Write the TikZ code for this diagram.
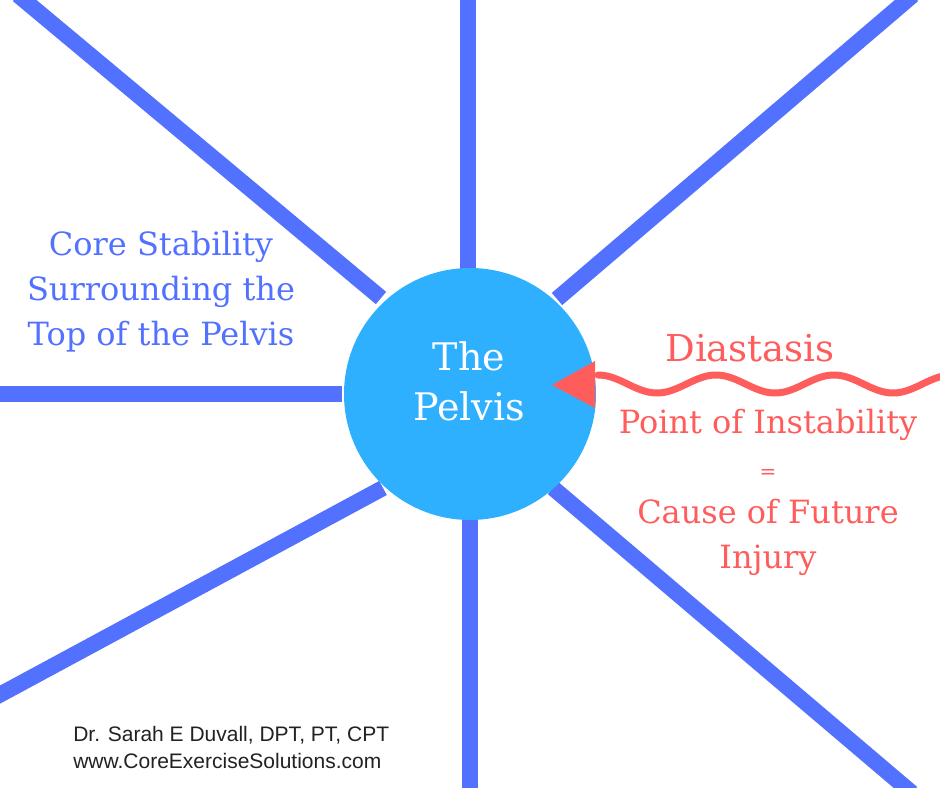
\documentclass[tikz,border=0pt]{standalone}
\usepackage{fontspec}
\setmainfont{DejaVu Serif}
\newfontfamily\creditfont{Liberation Sans}

\definecolor{spokeblue}{HTML}{5271FF}
\definecolor{pelvisblue}{HTML}{2EB0FF}
\definecolor{warnred}{HTML}{FF5C5C}
\definecolor{credit}{HTML}{222222}

\begin{document}
\begin{tikzpicture}[x=0.75pt, y=-0.75pt,
    spoke/.style={draw=spokeblue, line width=12pt},
    wave/.style={draw=warnred, line width=5.25pt, line cap=round},
    caption/.style={align=center, inner sep=0pt}]

    \useasboundingbox (0,0) rectangle (940,788);
    \clip (0,0) rectangle (940,788);
    \fill[white] (0,0) rectangle (940,788);

    \begin{scope}[]
    \coordinate (n out) at (468,-5);
    \coordinate (n in) at (468,272);
    \coordinate (s out) at (470,795);
    \coordinate (s in) at (470,516);
    \coordinate (w out) at (-5,394);
    \coordinate (w in) at (342,394);
    \coordinate (nw out) at (18,-5);
    \coordinate (nw in) at (381,298);
    \coordinate (ne out) at (913,-5);
    \coordinate (ne in) at (557,299);
    \coordinate (sw out) at (-10,700);
    \coordinate (sw in) at (383,488);
    \coordinate (se out) at (912,793);
    \coordinate (se in) at (553,488);

    \foreach \dir in {n,s,w,nw,ne,sw,se}
        \draw[spoke] (\dir\space out) -- (\dir\space in);
    \end{scope}

    \node[circle, fill=pelvisblue, minimum size=189pt, inner sep=0pt] (pelvis) at (470,394) {};
    \node[caption, anchor=base, text=white, font=\fontsize{28.5pt}{38.25pt}\selectfont]
        (pelvis text) at (469,421) {The\\Pelvis};

    \begin{scope}[]
    \fill[warnred] (552,385) -- (595,361) -- (595,408) -- cycle;
    \coordinate (wave start) at (598,375);
    \draw[wave] plot[domain=0:350, samples=160] ({598+\x},{384-9*cos(3.0508*\x)});
    \end{scope}

    \node[caption, anchor=base, text=spokeblue, font=\fontsize{24pt}{33.75pt}\selectfont]
        (stability) at (161,345) {Core Stability\\Surrounding the\\Top of the Pelvis};

    \node[caption, anchor=base, text=warnred, font=\fontsize{27.75pt}{33pt}\selectfont]
        (diastasis) at (750,361) {Diastasis};

    \node[caption, anchor=base, text=warnred, font=\fontsize{24pt}{33.75pt}\selectfont]
        (instability) at (768,568) {Point of Instability\\{\fontsize{15pt}{33.75pt}\selectfont =}\\Cause of Future\\Injury};

    \node[caption, align=left, anchor=base west, text=credit, font=\creditfont\fontsize{15.75pt}{20.25pt}\selectfont]
        (author) at (73,768) {Dr. Sarah E Duvall, DPT, PT, CPT\\www.CoreExerciseSolutions.com};

\end{tikzpicture}
\end{document}
